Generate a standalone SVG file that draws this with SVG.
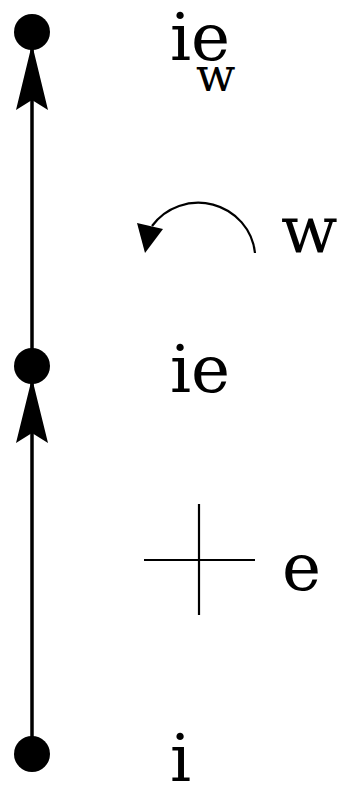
<svg xmlns="http://www.w3.org/2000/svg" width="343" height="785" viewBox="0 0 343 785">
<style>
.lbl{font-family:"DejaVu Serif","Liberation Serif",serif;fill:#000}
.big{font-size:66px}
.sub{font-size:46px}
.thin{stroke:#000;stroke-width:2.2;fill:none}
.dot{fill:#000}
</style>
<rect width="343" height="785" fill="#fff"/>
<g id="connectors">
<line x1="32" y1="754" x2="32" y2="366" stroke="#000" stroke-width="3.5"/>
<line x1="32" y1="366" x2="32" y2="32" stroke="#000" stroke-width="3.5"/>
<polygon points="32,44 48,110 32,100 16,110" fill="#000"/>
<polygon points="32,378 48,443 32,433 16,443" fill="#000"/>
</g>
<g id="node-top"><circle class="dot" cx="32" cy="32" r="18"/></g>
<g id="node-mid"><circle class="dot" cx="32" cy="366" r="18"/></g>
<g id="node-bot"><circle class="dot" cx="32" cy="754" r="18"/></g>
<g id="label-iew">
<text class="lbl big" x="170" y="60">ie</text>
<text class="lbl sub" x="196" y="91">w</text>
</g>
<g id="label-w">
<path class="thin" d="M255,253 A57,56 0 0 0 152,226"/>
<polygon points="137,223 163,229 145,253" fill="#000"/>
<text class="lbl big" x="281" y="253">w</text>
</g>
<g id="label-ie"><text class="lbl big" x="170" y="392">ie</text></g>
<g id="label-e">
<line class="thin" x1="144" y1="560" x2="255" y2="560"/>
<line class="thin" x1="199" y1="504" x2="199" y2="615"/>
<text class="lbl big" x="282" y="590">e</text>
</g>
<g id="label-i"><text class="lbl big" x="170" y="781">i</text></g>
</svg>
